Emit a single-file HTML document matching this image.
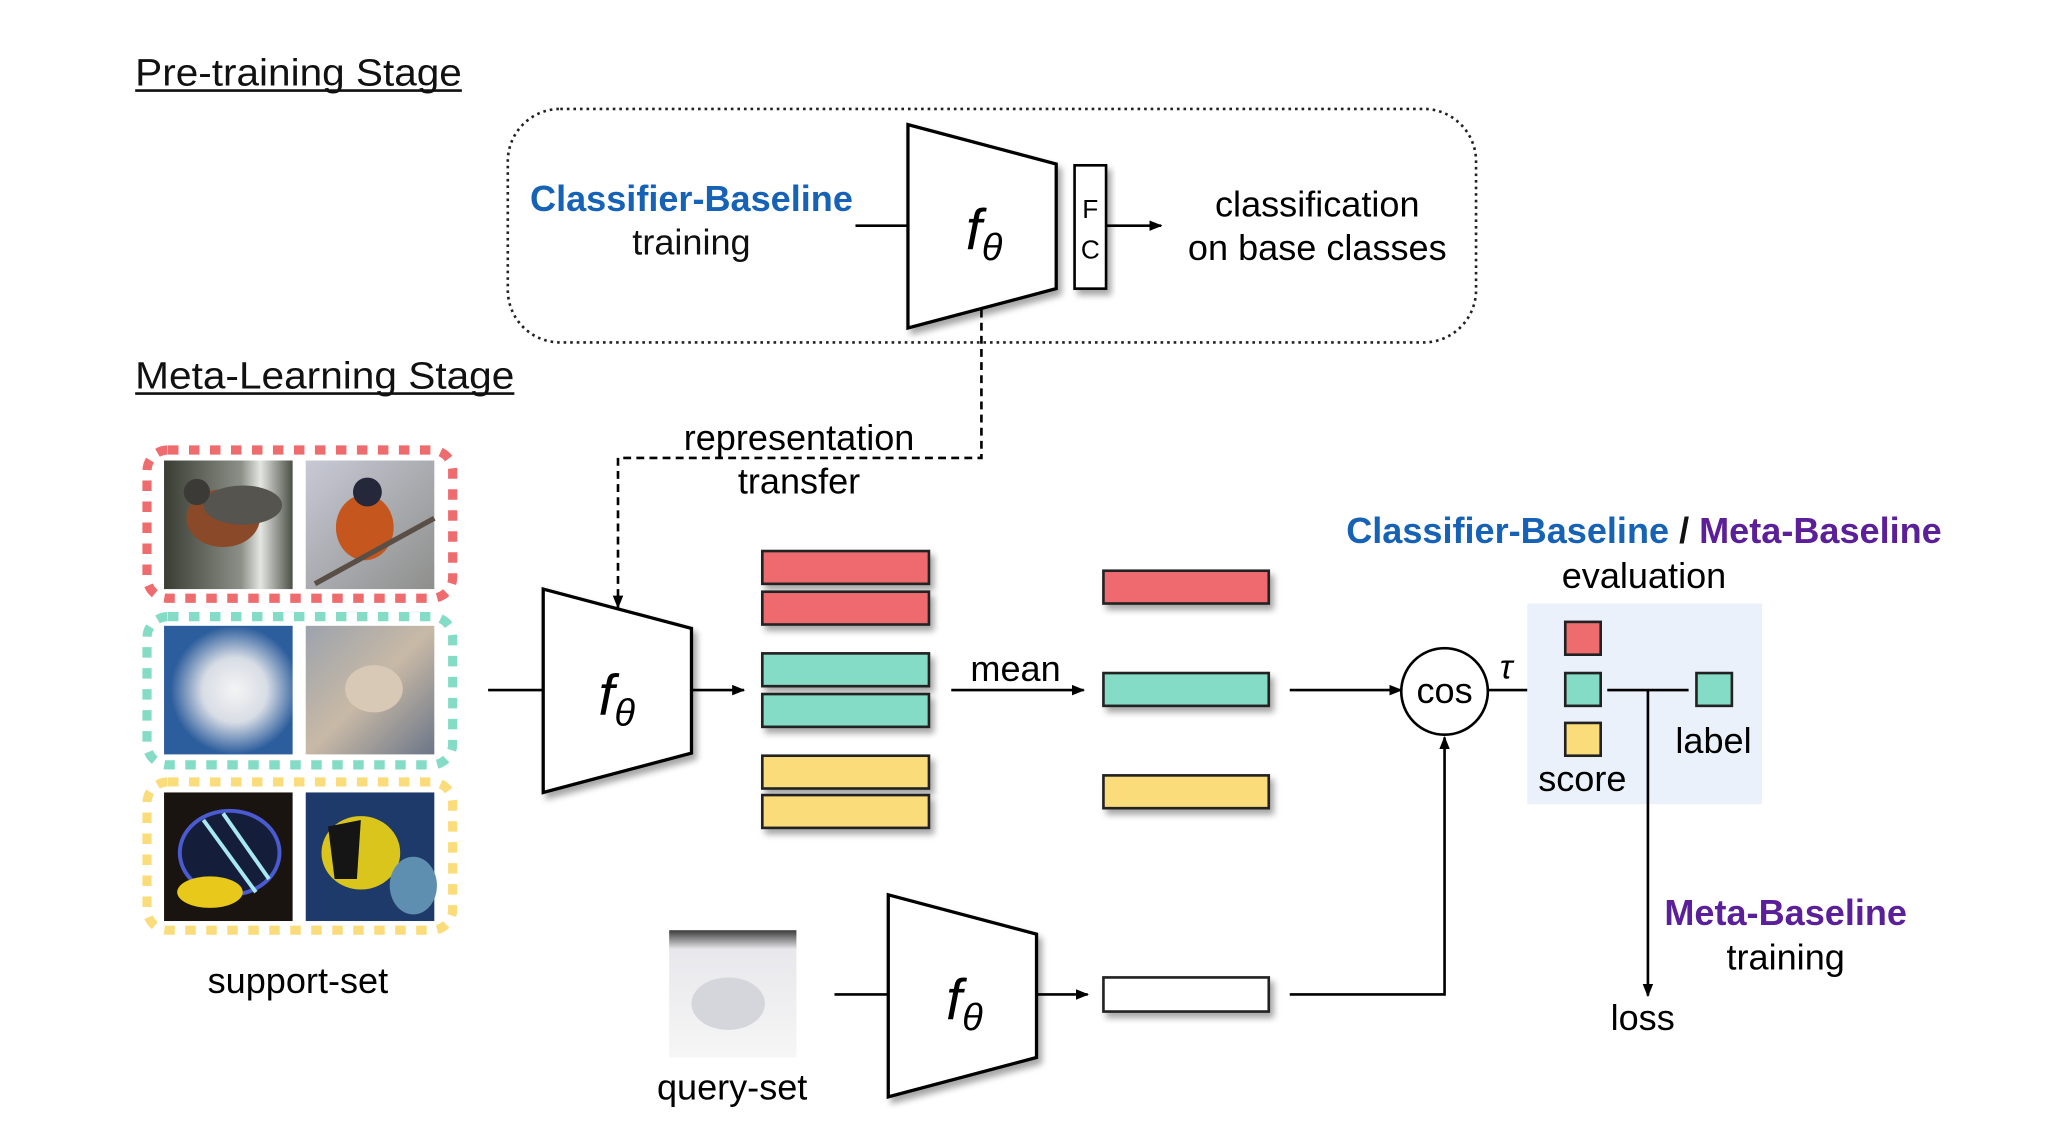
<!DOCTYPE html>
<html><head><meta charset="utf-8"><style>
html,body{margin:0;padding:0;background:#fff;}
svg{display:block;}
text{font-family:"Liberation Sans",sans-serif;}
</style></head><body>
<svg width="2056" height="1148" viewBox="0 0 1567 875" xmlns="http://www.w3.org/2000/svg">
<defs>
<marker id="ar" markerWidth="10" markerHeight="10" refX="9" refY="5" orient="auto" markerUnits="userSpaceOnUse"><path d="M0,1 L10,5 L0,9 z" fill="#000"/></marker>
<filter id="sh" x="-20%" y="-20%" width="150%" height="150%"><feDropShadow dx="3" dy="4" stdDeviation="2.5" flood-color="#000" flood-opacity="0.35"/></filter>
<linearGradient id="bird1" x1="0" y1="0" x2="1" y2="0"><stop offset="0" stop-color="#3a3d33"/><stop offset="0.6" stop-color="#8c9088"/><stop offset="0.75" stop-color="#e4e6e2"/><stop offset="1" stop-color="#4b4f45"/></linearGradient>
<linearGradient id="bird2" x1="0" y1="0" x2="1" y2="1"><stop offset="0" stop-color="#c7c9d6"/><stop offset="1" stop-color="#8e8f8c"/></linearGradient>
<radialGradient id="fox1" cx="0.55" cy="0.5" r="0.5"><stop offset="0" stop-color="#f4f4f4"/><stop offset="0.5" stop-color="#d8dde5"/><stop offset="1" stop-color="#2c5d9c"/></radialGradient>
<linearGradient id="fox2" x1="0" y1="0" x2="1" y2="1"><stop offset="0" stop-color="#9ca3ad"/><stop offset="0.5" stop-color="#c8b9a6"/><stop offset="1" stop-color="#6b7688"/></linearGradient>
<linearGradient id="q" x1="0" y1="0" x2="0" y2="1"><stop offset="0" stop-color="#3a3a3a"/><stop offset="0.15" stop-color="#e8e8ec"/><stop offset="1" stop-color="#f6f6f6"/></linearGradient>
</defs>

<text x="103" y="65" font-size="29" fill="#111" textLength="249" lengthAdjust="spacingAndGlyphs">Pre-training Stage</text>
<line x1="103" y1="69" x2="352" y2="69" stroke="#111" stroke-width="2"/>
<text x="103" y="296" font-size="29" fill="#111" textLength="289" lengthAdjust="spacingAndGlyphs">Meta-Learning Stage</text>
<line x1="103" y1="300" x2="392" y2="300" stroke="#111" stroke-width="2"/>

<rect x="387" y="83" width="738" height="178" rx="40" fill="none" stroke="#222" stroke-width="2" stroke-dasharray="2,3"/>
<text x="527" y="161" font-size="27.5" font-weight="bold" fill="#1662b6" text-anchor="middle">Classifier-Baseline</text>
<text x="527" y="194" font-size="27.5" fill="#111" text-anchor="middle">training</text>
<line x1="652" y1="172" x2="692" y2="172" stroke="#000" stroke-width="2"/>
<path d="M692,95 L805,125 L805,220 L692,250 Z" fill="#fff" stroke="#000" stroke-width="2.5" filter="url(#sh)"/>
<text x="750" y="190" font-size="44" font-family="Liberation Serif" font-style="italic" text-anchor="middle">f<tspan font-size="29" dy="8">θ</tspan></text>
<rect x="819" y="126" width="24" height="94" fill="#fff" stroke="#000" stroke-width="2" filter="url(#sh)"/>
<text x="831" y="166" font-size="20" text-anchor="middle">F</text>
<text x="831" y="197" font-size="20" text-anchor="middle">C</text>
<line x1="843" y1="172" x2="885" y2="172" stroke="#000" stroke-width="2" marker-end="url(#ar)"/>
<text x="1004" y="165" font-size="27.5" text-anchor="middle">classification</text>
<text x="1004" y="198" font-size="27.5" text-anchor="middle">on base classes</text>

<path d="M748,236 L748,349 L471,349 L471,463" fill="none" stroke="#000" stroke-width="2" stroke-dasharray="6,4" marker-end="url(#ar)"/>
<text x="609" y="343" font-size="27.5" text-anchor="middle">representation</text>
<text x="609" y="376" font-size="27.5" text-anchor="middle">transfer</text>

<rect x="125" y="351" width="98" height="98" fill="url(#bird1)"/>
<ellipse cx="170" cy="395" rx="28" ry="22" fill="#8a4a2a"/><ellipse cx="185" cy="385" rx="30" ry="15" fill="#55544e"/><circle cx="150" cy="375" r="10" fill="#3c3a36"/>
<rect x="233" y="351" width="98" height="98" fill="url(#bird2)"/>
<ellipse cx="278" cy="402" rx="22" ry="25" fill="#c4561e"/><circle cx="280" cy="375" r="11" fill="#24283a"/>
<path d="M240,445 L331,395" stroke="#5a4f46" stroke-width="4"/>
<rect x="125" y="477" width="98" height="98" fill="url(#fox1)"/>
<rect x="233" y="477" width="98" height="98" fill="url(#fox2)"/>
<ellipse cx="285" cy="525" rx="22" ry="18" fill="#d7c9b5"/>
<rect x="125" y="604" width="98" height="98" fill="#1a1410"/>
<ellipse cx="175" cy="650" rx="38" ry="32" fill="#141e3a" stroke="#4a5ad0" stroke-width="3"/>
<path d="M155,625 L195,680 M170,620 L205,670" stroke="#a8e8f0" stroke-width="3"/>
<ellipse cx="160" cy="680" rx="25" ry="12" fill="#e8c81a"/>
<rect x="233" y="604" width="98" height="98" fill="#1e3a6a"/>
<ellipse cx="275" cy="650" rx="30" ry="28" fill="#d9c51c"/><path d="M250,630 L275,625 L272,670 L255,670 Z" fill="#151515"/>
<ellipse cx="315" cy="675" rx="18" ry="22" fill="#5f8fb0"/>
<rect x="112" y="343" width="233" height="113" rx="16" fill="none" stroke="#ee6b6e" stroke-width="7" stroke-dasharray="8,8"/>
<rect x="112" y="470" width="233" height="113" rx="16" fill="none" stroke="#84dcc6" stroke-width="7" stroke-dasharray="8,8"/>
<rect x="112" y="596" width="233" height="113" rx="16" fill="none" stroke="#fbdc7a" stroke-width="7" stroke-dasharray="8,8"/>
<text x="227" y="757" font-size="27.5" text-anchor="middle">support-set</text>

<line x1="372" y1="526" x2="414" y2="526" stroke="#000" stroke-width="2"/>
<path d="M414,449 L527,479 L527,574 L414,604 Z" fill="#fff" stroke="#000" stroke-width="2.5" filter="url(#sh)"/>
<text x="470" y="545" font-size="44" font-family="Liberation Serif" font-style="italic" text-anchor="middle">f<tspan font-size="29" dy="8">θ</tspan></text>
<line x1="527" y1="526" x2="567" y2="526" stroke="#000" stroke-width="2" marker-end="url(#ar)"/>

<g stroke="#222" stroke-width="2" filter="url(#sh)">
<rect x="581" y="420" width="127" height="25" fill="#ee6b6e"/>
<rect x="581" y="451" width="127" height="25" fill="#ee6b6e"/>
<rect x="581" y="498" width="127" height="25" fill="#84dcc6"/>
<rect x="581" y="529" width="127" height="25" fill="#84dcc6"/>
<rect x="581" y="576" width="127" height="25" fill="#fbdc7a"/>
<rect x="581" y="606" width="127" height="25" fill="#fbdc7a"/>
<rect x="841" y="435" width="126" height="25" fill="#ee6b6e"/>
<rect x="841" y="513" width="126" height="25" fill="#84dcc6"/>
<rect x="841" y="591" width="126" height="25" fill="#fbdc7a"/>
<rect x="841" y="745" width="126" height="26" fill="#fff"/>
</g>
<text x="774" y="519" font-size="27.5" text-anchor="middle">mean</text>
<line x1="725" y1="526" x2="826" y2="526" stroke="#000" stroke-width="2" marker-end="url(#ar)"/>
<line x1="983" y1="526" x2="1068" y2="526" stroke="#000" stroke-width="2" marker-end="url(#ar)"/>
<circle cx="1101" cy="527" r="33" fill="#fff" stroke="#000" stroke-width="2"/>
<text x="1101" y="536" font-size="27.5" text-anchor="middle">cos</text>
<line x1="1134" y1="526" x2="1188" y2="526" stroke="#000" stroke-width="2" marker-end="url(#ar)"/>
<text x="1148" y="517" font-size="26" font-family="Liberation Serif" font-style="italic" text-anchor="middle">τ</text>

<text x="1253" y="414" font-size="27.5" font-weight="bold" text-anchor="middle"><tspan fill="#1662b6">Classifier-Baseline</tspan><tspan fill="#111"> / </tspan><tspan fill="#5b1f99">Meta-Baseline</tspan></text>
<text x="1253" y="448" font-size="27.5" text-anchor="middle">evaluation</text>
<rect x="1164" y="460" width="179" height="153" fill="#eaf1fa"/>
<g stroke="#222" stroke-width="2">
<rect x="1193" y="474" width="27" height="25" fill="#ee6b6e"/>
<rect x="1193" y="513" width="27" height="25" fill="#84dcc6"/>
<rect x="1193" y="551" width="27" height="25" fill="#fbdc7a"/>
<rect x="1293" y="513" width="27" height="25" fill="#84dcc6"/>
</g>
<line x1="1225" y1="526" x2="1287" y2="526" stroke="#000" stroke-width="2"/>
<line x1="1256" y1="526" x2="1256" y2="759" stroke="#000" stroke-width="2" marker-end="url(#ar)"/>
<text x="1206" y="603" font-size="27.5" text-anchor="middle">score</text>
<text x="1306" y="574" font-size="27.5" text-anchor="middle">label</text>
<text x="1361" y="705" font-size="27.5" font-weight="bold" fill="#5b1f99" text-anchor="middle">Meta-Baseline</text>
<text x="1361" y="739" font-size="27.5" text-anchor="middle">training</text>
<text x="1252" y="785" font-size="27.5" text-anchor="middle">loss</text>

<rect x="510" y="709" width="97" height="97" fill="url(#q)"/>
<ellipse cx="555" cy="765" rx="28" ry="20" fill="#d4d6dc"/>
<text x="558" y="838" font-size="27.5" text-anchor="middle">query-set</text>
<line x1="636" y1="758" x2="677" y2="758" stroke="#000" stroke-width="2"/>
<path d="M677,682 L790,712 L790,806 L677,836 Z" fill="#fff" stroke="#000" stroke-width="2.5" filter="url(#sh)"/>
<text x="735" y="777" font-size="44" font-family="Liberation Serif" font-style="italic" text-anchor="middle">f<tspan font-size="29" dy="8">θ</tspan></text>
<line x1="790" y1="758" x2="829" y2="758" stroke="#000" stroke-width="2" marker-end="url(#ar)"/>
<path d="M983,758 L1101,758 L1101,562" fill="none" stroke="#000" stroke-width="2" marker-end="url(#ar)"/>
</svg>
</body></html>
